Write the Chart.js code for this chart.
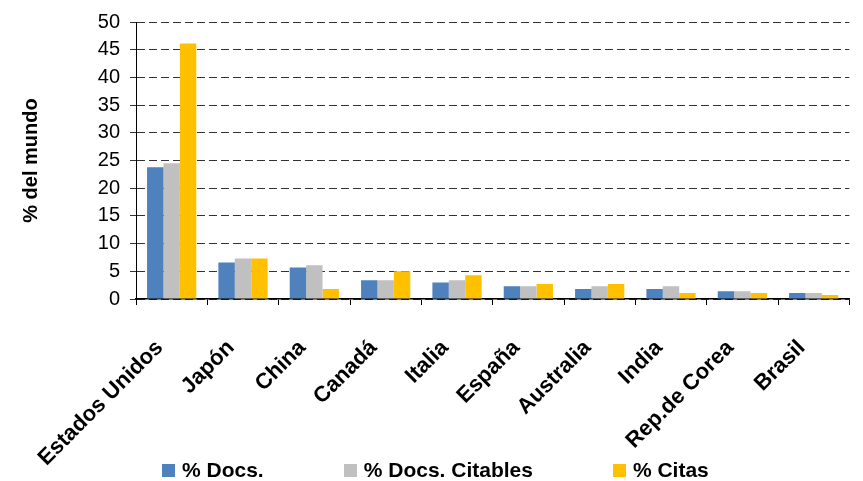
<!DOCTYPE html>
<html>
<head>
<meta charset="utf-8">
<script src="https://cdn.jsdelivr.net/npm/chart.js@4"></script>
<style>
  body { margin: 0; background: #fff; }
  #wrap { position: relative; width: 863px; height: 481px; }
  #legend { position: absolute; left: 162px; top: 459px; height: 22px; display: flex; align-items: center;
            font: bold 21px 'Liberation Sans', Arial, sans-serif; color: #000; }
  #legend .item { display: flex; align-items: center; margin-right: 80px; white-space: nowrap; }
  #legend .box { width: 13px; height: 13px; margin-right: 7px; }
</style>
</head>
<body>
<div id="wrap">
  <canvas id="chart"></canvas>
  <div id="legend"></div>
</div>
<script>
const paises = ['Estados Unidos', 'Japón', 'China', 'Canadá', 'Italia', 'España', 'Australia', 'India', 'Rep.de Corea', 'Brasil'];
const pctDocs = [23.8, 6.6, 5.7, 3.4, 3.0, 2.3, 1.8, 1.8, 1.4, 1.1];
const pctCitables = [24.5, 7.3, 6.1, 3.4, 3.4, 2.3, 2.3, 2.3, 1.4, 1.1];
const pctCitas = [46.1, 7.3, 1.8, 5.0, 4.3, 2.7, 2.7, 1.1, 1.1, 0.7];
const seriesNames = ['% Docs.', '% Docs. Citables', '% Citas'];

Chart.defaults.font.family = "'Liberation Sans', Arial, sans-serif";
Chart.defaults.color = '#000';

// legend drawn as html so the spacing matches the original
const htmlLegend = {
    id: 'htmlLegend',
    afterUpdate(chart) {
        const box = document.getElementById('legend');
        box.innerHTML = '';
        chart.data.datasets.forEach(ds => {
            const item = document.createElement('div');
            item.className = 'item';
            const sw = document.createElement('span');
            sw.className = 'box';
            sw.style.background = ds.backgroundColor;
            item.appendChild(sw);
            item.appendChild(document.createTextNode(ds.label));
            box.appendChild(item);
        });
    }
};

const ctx = document.getElementById('chart').getContext('2d');
new Chart(ctx, {
    type: 'bar',
    data: {
        labels: paises,
        datasets: [
            { label: seriesNames[0], data: pctDocs, backgroundColor: '#4F81BD' },
            { label: seriesNames[1], data: pctCitables, backgroundColor: '#C0C0C0' },
            { label: seriesNames[2], data: pctCitas, backgroundColor: '#FFC000' }
        ]
    },
    options: {
        responsive: true,
        maintainAspectRatio: false,
        animation: false,
        datasets: { bar: { categoryPercentage: 0.69, barPercentage: 1.0 } },
        layout: { padding: { left: 10, right: 13, top: 20, bottom: 0 } },
        plugins: {
            legend: { display: false },
            tooltip: { enabled: false }
        },
        scales: {
            x: {
                grid: { offset: true, drawOnChartArea: false, tickLength: 6, color: '#000' },
                border: { color: '#000', width: 1.5 },
                ticks: {
                    autoSkip: false, maxRotation: 45, minRotation: 45, padding: 30, labelOffset: -12,
                    font: { size: 22, weight: 'bold' }
                },
                afterFit(scale) { scale.height = 182; }
            },
            y: {
                min: 0, max: 50,
                ticks: { stepSize: 5, padding: 10, font: { size: 20 } },
                grid: { color: '#333', tickLength: 6, tickBorderDash: [] },
                border: { color: '#000', width: 1, dash: [8, 4] },
                title: {
                    display: true, text: '% del mundo',
                    font: { size: 20, weight: 'bold' },
                    padding: { top: 9, bottom: 0 }
                },
                afterFit(scale) { scale.width = 126; }
            }
        }
    },
    plugins: [htmlLegend]
});
</script>
</body>
</html>
